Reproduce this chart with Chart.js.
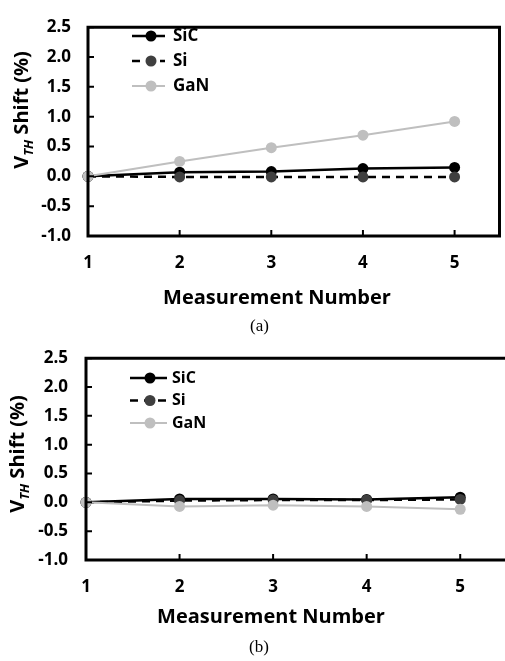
<!DOCTYPE html>
<html>
<head>
<meta charset="utf-8">
<script src="https://cdn.jsdelivr.net/npm/chart.js@4.4.0/dist/chart.umd.min.js"></script>
<style>
  body { margin: 0; background: #fff; }
  #page { position: relative; width: 505px; height: 661px; overflow: hidden; }
  canvas { position: absolute; left: 0; }
  .cap { position: absolute; font-family: "Liberation Serif", serif; font-size: 17px; color: #000; }
</style>
</head>
<body>
<div id="page">
  <canvas id="chartA" width="505" height="312" style="top:0"></canvas>
  <canvas id="chartB" width="505" height="305" style="top:330px"></canvas>
  <div class="cap" style="left:250px; top:316px">(a)</div>
  <div class="cap" style="left:249px; top:637px">(b)</div>
</div>
<script>
const measurements = [1, 2, 3, 4, 5];
const seriesNames = ["SiC", "Si", "GaN"];
const sicA = [0, 0.07, 0.08, 0.13, 0.15];
const siA = [0, -0.01, -0.01, -0.01, -0.01];
const ganA = [0, 0.25, 0.48, 0.69, 0.92];
const sicB = [0, 0.06, 0.06, 0.05, 0.09];
const siB = [0, 0.03, 0.04, 0.04, 0.05];
const ganB = [0, -0.07, -0.05, -0.07, -0.12];
const yTicks = [-1.0, -0.5, 0.0, 0.5, 1.0, 1.5, 2.0, 2.5];
const xTicks = [1, 2, 3, 4, 5];

const FONT = "'Open Sans', 'DejaVu Sans', sans-serif";

function pts(vals) {
  return vals.map((v, i) => ({ x: measurements[i], y: v }));
}

// frame, inner ticks, legend and axis titles
const decor = {
  id: 'decor',
  afterDraw(chart, args, o) {
    const ctx = chart.ctx;
    const a = chart.chartArea;
    ctx.save();
    ctx.strokeStyle = '#000';
    ctx.lineWidth = 3;
    ctx.setLineDash([]);
    ctx.beginPath();
    if (o.rightSide) {
      ctx.rect(a.left, a.top, a.right - a.left, a.bottom - a.top);
    } else {
      ctx.moveTo(chart.width + 2, a.top);
      ctx.lineTo(a.left, a.top);
      ctx.lineTo(a.left, a.bottom);
      ctx.lineTo(chart.width + 2, a.bottom);
    }
    ctx.stroke();

    ctx.lineWidth = 2;
    ctx.beginPath();
    const ys = chart.scales.y;
    ys.ticks.forEach(t => {
      const py = ys.getPixelForValue(t.value);
      ctx.moveTo(a.left, py);
      ctx.lineTo(a.left + 6, py);
    });
    const xs = chart.scales.x;
    xs.ticks.forEach(t => {
      const px = xs.getPixelForValue(t.value);
      ctx.moveTo(px, a.bottom);
      ctx.lineTo(px, a.bottom - 6);
    });
    ctx.stroke();

    // legend
    const L = o.legend;
    chart.data.datasets.forEach((ds, i) => {
      const y = L.y0 + i * L.dy;
      ctx.strokeStyle = ds.borderColor;
      ctx.lineWidth = ds.borderWidth;
      ctx.setLineDash(ds.borderDash || []);
      ctx.beginPath();
      ctx.moveTo(L.x0, y);
      ctx.lineTo(L.x1, y);
      ctx.stroke();
      ctx.setLineDash([]);
      ctx.fillStyle = ds.pointBackgroundColor;
      ctx.beginPath();
      ctx.arc(L.xm, y, ds.pointRadius, 0, Math.PI * 2);
      ctx.fill();
      ctx.fillStyle = '#000';
      ctx.font = 'bold ' + L.size + 'px ' + FONT;
      ctx.textBaseline = 'middle';
      ctx.textAlign = 'left';
      ctx.fillText(ds.label, L.xt, y);
    });

    // x title
    ctx.fillStyle = '#000';
    ctx.font = 'bold ' + o.xTitle.size + 'px ' + FONT;
    ctx.textAlign = 'center';
    ctx.textBaseline = 'middle';
    ctx.fillText('Measurement Number', o.xTitle.x, o.xTitle.y);

    // y title with subscript
    const T = o.yTitle;
    ctx.translate(T.x, T.y);
    ctx.rotate(-Math.PI / 2);
    const big = 'bold ' + T.size + 'px ' + FONT;
    const small = 'italic bold ' + Math.round(T.size * 0.65) + 'px ' + FONT;
    ctx.font = big;
    const wV = ctx.measureText('V').width;
    const wRest = ctx.measureText(' Shift (%)').width;
    ctx.font = small;
    const wSub = ctx.measureText('TH').width;
    let x = -(wV + wSub + wRest) / 2;
    ctx.textAlign = 'left';
    ctx.textBaseline = 'alphabetic';
    const base = T.size * 0.36;
    ctx.font = big;
    ctx.fillText('V', x, base);
    x += wV;
    ctx.font = small;
    ctx.fillText('TH', x, base + T.size * 0.22);
    x += wSub;
    ctx.font = big;
    ctx.fillText(' Shift (%)', x, base);
    ctx.restore();
  }
};

function makeChart(id, vals, cfg) {
  const styles = [
    { color: '#000000', point: '#000000', dash: [], width: 2.5, order: 2 },
    { color: '#000000', point: '#3f3f3f', dash: [8, 6], width: 2.5, order: 1 },
    { color: '#bfbfbf', point: '#bfbfbf', dash: [], width: 2, order: 0 }
  ];
  const datasets = vals.map((v, i) => ({
    label: seriesNames[i],
    data: pts(v),
    borderColor: styles[i].color,
    borderWidth: styles[i].width,
    borderDash: styles[i].dash,
    pointBackgroundColor: styles[i].point,
    pointBorderColor: styles[i].point,
    pointBorderWidth: 0,
    pointRadius: cfg.radius,
    order: styles[i].order,
    clip: false,
    tension: 0
  }));
  return new Chart(document.getElementById(id), {
    type: 'line',
    data: { datasets },
    options: {
      responsive: false,
      animation: false,
      layout: { padding: { top: cfg.top, right: cfg.right, left: 0, bottom: 0 } },
      plugins: {
        legend: { display: false },
        tooltip: { enabled: false },
        decor: cfg.decor
      },
      scales: {
        x: {
          type: 'linear',
          min: 1,
          max: cfg.xMax,
          grid: { display: false, drawTicks: false },
          border: { display: false },
          afterBuildTicks: s => { s.ticks = xTicks.map(v => ({ value: v })); },
          afterFit: s => { s.height = cfg.xHeight; },
          ticks: {
            color: '#000',
            padding: cfg.xPad,
            font: { family: FONT, size: 17, weight: 'bold' },
            maxRotation: 0,
            callback: v => String(v)
          }
        },
        y: {
          min: -1,
          max: 2.5,
          grid: { display: false, drawTicks: false },
          border: { display: false },
          afterBuildTicks: s => { s.ticks = yTicks.map(v => ({ value: v })); },
          afterFit: s => { s.width = cfg.yWidth; },
          ticks: {
            color: '#000',
            padding: cfg.yPad,
            font: { family: FONT, size: 17, weight: 'bold' },
            callback: v => Number(v).toFixed(1)
          }
        }
      }
    },
    plugins: [decor]
  });
}

makeChart('chartA', [sicA, siA, ganA], {
  radius: 5.5, top: 12, right: 3, xMax: 5.49, xHeight: 76, yWidth: 88, xPad: 17, yPad: 17,
  decor: {
    rightSide: true,
    legend: { y0: 36, dy: 25, x0: 132, x1: 165, xm: 151, xt: 173, size: 17 },
    xTitle: { x: 277, y: 298, size: 20 },
    yTitle: { x: 21, y: 110, size: 20 }
  }
});

makeChart('chartB', [sicB, siB, ganB], {
  radius: 5.5, top: 27, right: 0, xMax: 5.42, xHeight: 75, yWidth: 86, xPad: 17, yPad: 18,
  decor: {
    rightSide: false,
    legend: { y0: 48, dy: 22.5, x0: 130, x1: 167, xm: 150, xt: 172, size: 16 },
    xTitle: { x: 271, y: 287, size: 20 },
    yTitle: { x: 17, y: 124, size: 20 }
  }
});
</script>
</body>
</html>
